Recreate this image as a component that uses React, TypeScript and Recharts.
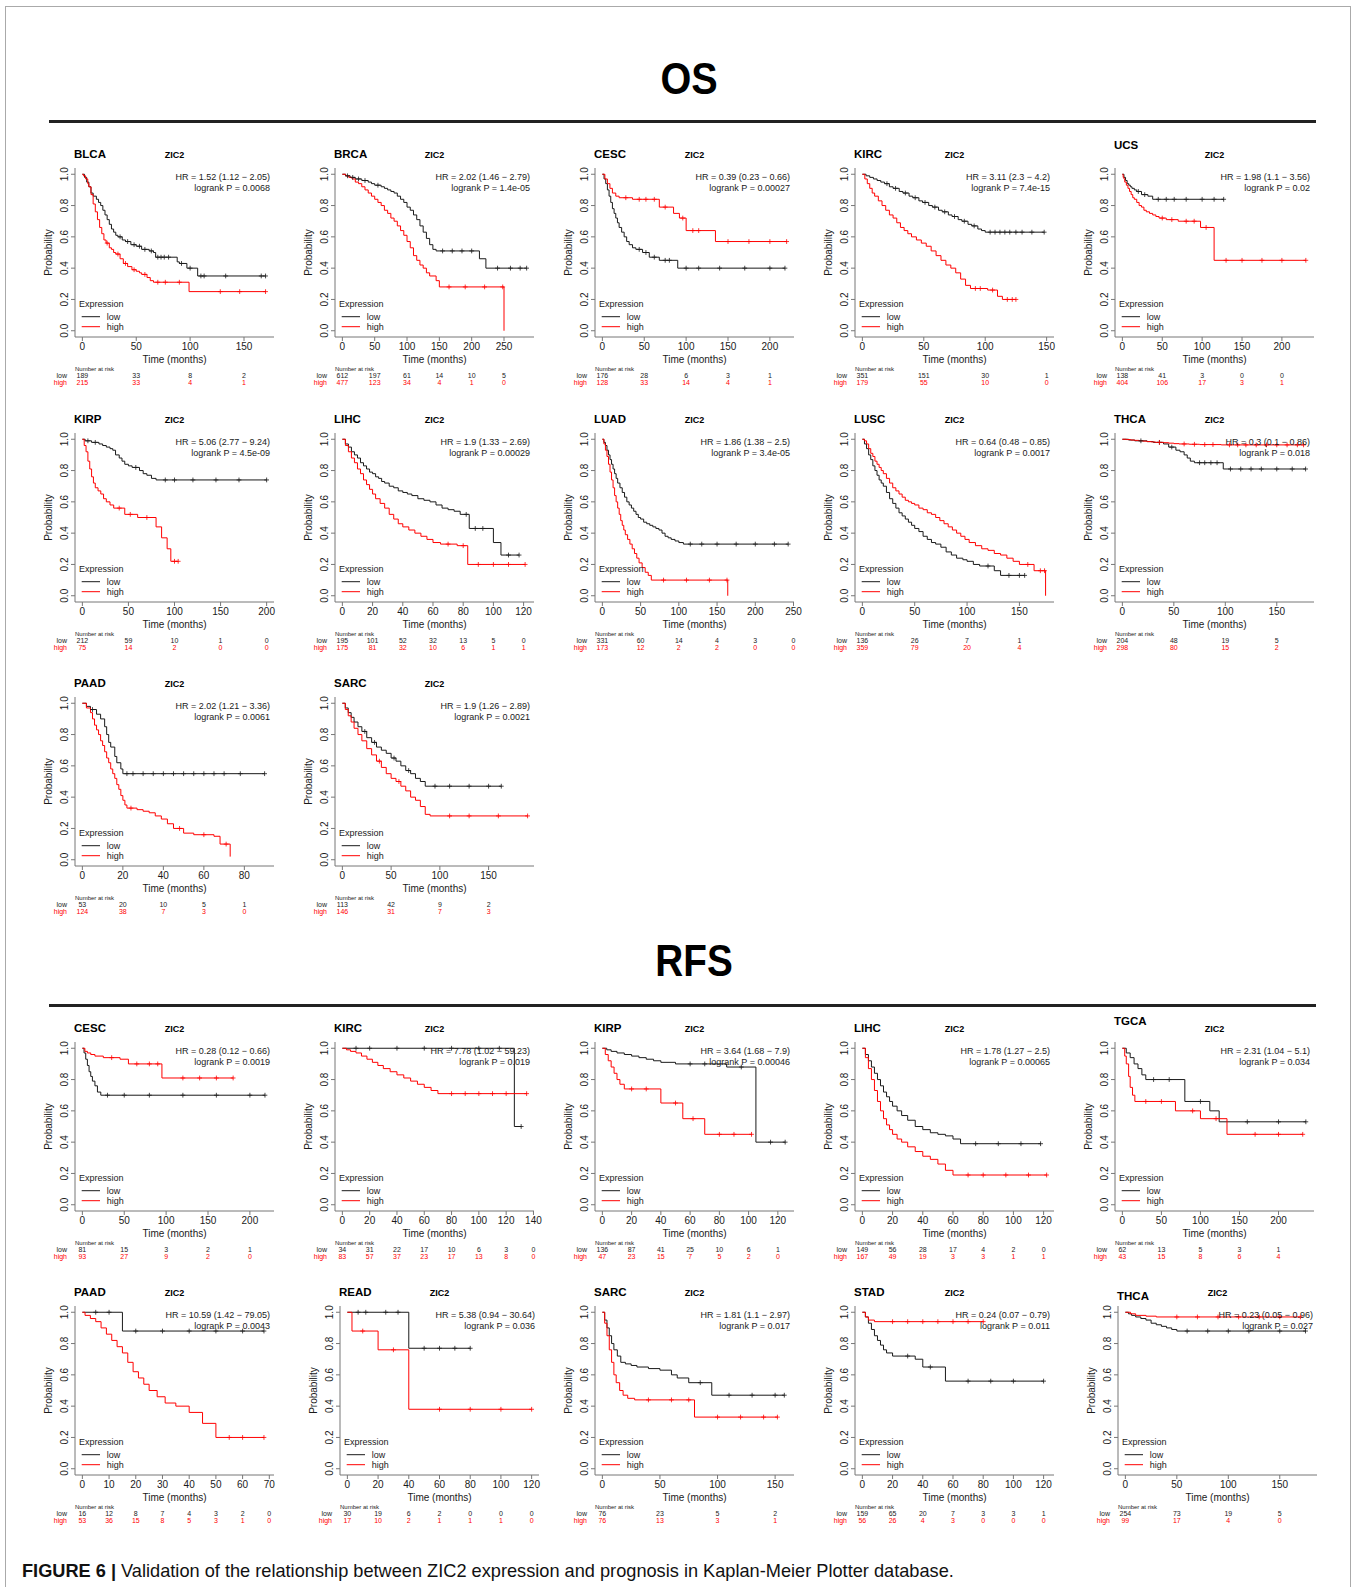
import React from 'react';
import { LineChart, Line, XAxis, YAxis } from 'recharts';

type Pt = [number, number];

// curves: [months, survival]; a point that repeats the previous survival is a censored case
const osBlcaLow: Pt[] = [[0,1],[2,0.98],[4,0.95],[6,0.92],[8,0.88],[10,0.86],[13,0.84],[15,0.82],[17,0.8],[19,0.77],[21,0.74],[23,0.71],[25,0.68],[27,0.65],[29,0.63],[31,0.61],[33,0.6],[35,0.6],[37,0.58],[40,0.57],[42,0.57],[45,0.55],[48,0.55],[50,0.54],[53,0.54],[55,0.52],[58,0.52],[62,0.51],[64,0.51],[66,0.5],[68,0.47],[70,0.47],[73,0.47],[76,0.47],[80,0.47],[88,0.44],[90,0.43],[92,0.43],[97,0.4],[100,0.4],[107,0.35],[110,0.35],[113,0.35],[133,0.35],[166,0.35],[170,0.35]];
const osBlcaHigh: Pt[] = [[0,1],[1,0.99],[3,0.97],[5,0.94],[6,0.92],[8,0.87],[10,0.81],[12,0.76],[14,0.71],[16,0.66],[18,0.62],[20,0.58],[22,0.56],[23,0.56],[25,0.53],[27,0.52],[29,0.5],[31,0.49],[33,0.49],[35,0.46],[38,0.43],[40,0.43],[42,0.41],[46,0.39],[48,0.39],[50,0.38],[53,0.37],[55,0.36],[58,0.36],[60,0.34],[63,0.32],[66,0.31],[70,0.31],[77,0.31],[90,0.31],[99,0.25],[128,0.25],[146,0.25],[170,0.25]];
const osBrcaLow: Pt[] = [[0,1],[5,0.99],[8,0.99],[12,0.98],[16,0.98],[20,0.97],[25,0.97],[30,0.96],[35,0.96],[40,0.95],[45,0.94],[50,0.93],[55,0.93],[60,0.92],[65,0.91],[70,0.9],[75,0.89],[80,0.88],[85,0.86],[90,0.84],[95,0.82],[100,0.79],[105,0.77],[110,0.74],[115,0.71],[120,0.67],[125,0.63],[130,0.59],[135,0.55],[140,0.52],[145,0.51],[155,0.51],[170,0.51],[185,0.51],[200,0.51],[212,0.46],[222,0.4],[240,0.4],[260,0.4],[275,0.4],[285,0.4]];
const osBrcaHigh: Pt[] = [[0,1],[5,0.99],[10,0.98],[15,0.97],[20,0.95],[25,0.94],[30,0.92],[35,0.9],[40,0.88],[45,0.86],[50,0.84],[55,0.82],[60,0.8],[65,0.77],[70,0.75],[75,0.72],[80,0.7],[85,0.67],[90,0.64],[95,0.61],[100,0.57],[105,0.53],[110,0.48],[115,0.45],[120,0.42],[125,0.4],[130,0.37],[135,0.35],[145,0.32],[150,0.28],[165,0.28],[190,0.28],[220,0.28],[248,0.28],[250,0]];
const osCescLow: Pt[] = [[0,1],[2,0.97],[4,0.94],[6,0.9],[8,0.86],[10,0.82],[12,0.78],[14,0.75],[16,0.72],[18,0.69],[20,0.66],[23,0.63],[26,0.6],[29,0.57],[32,0.55],[36,0.53],[40,0.52],[44,0.52],[48,0.5],[52,0.5],[56,0.47],[62,0.47],[68,0.45],[75,0.45],[80,0.45],[90,0.4],[100,0.4],[115,0.4],[140,0.4],[170,0.4],[200,0.4],[218,0.4]];
const osCescHigh: Pt[] = [[0,1],[3,0.97],[6,0.94],[9,0.91],[12,0.88],[16,0.86],[20,0.85],[28,0.85],[36,0.84],[44,0.84],[52,0.84],[62,0.84],[68,0.79],[75,0.79],[85,0.75],[92,0.72],[96,0.72],[100,0.64],[108,0.64],[115,0.64],[135,0.57],[150,0.57],[175,0.57],[200,0.57],[220,0.57]];
const osKircLow: Pt[] = [[0,1],[3,0.99],[6,0.98],[9,0.97],[12,0.96],[15,0.95],[18,0.94],[20,0.94],[22,0.92],[25,0.91],[27,0.91],[30,0.89],[33,0.88],[35,0.88],[38,0.86],[41,0.85],[43,0.85],[46,0.83],[49,0.82],[51,0.82],[54,0.8],[57,0.79],[59,0.79],[62,0.77],[65,0.76],[67,0.76],[70,0.74],[73,0.73],[75,0.73],[78,0.71],[81,0.7],[83,0.7],[86,0.68],[89,0.67],[91,0.67],[94,0.65],[97,0.64],[100,0.63],[104,0.63],[108,0.63],[112,0.63],[116,0.63],[120,0.63],[125,0.63],[130,0.63],[138,0.63],[148,0.63]];
const osKircHigh: Pt[] = [[0,1],[2,0.97],[4,0.94],[6,0.91],[8,0.88],[10,0.86],[13,0.83],[16,0.8],[19,0.77],[22,0.74],[25,0.72],[28,0.69],[31,0.66],[34,0.64],[37,0.62],[40,0.6],[44,0.58],[48,0.56],[52,0.54],[56,0.51],[60,0.48],[64,0.45],[68,0.42],[72,0.4],[76,0.37],[80,0.33],[84,0.29],[88,0.27],[92,0.27],[96,0.27],[102,0.26],[106,0.26],[110,0.22],[114,0.2],[118,0.2],[122,0.2],[125,0.2]];
const osUcsLow: Pt[] = [[0,1],[2,0.98],[4,0.96],[6,0.94],[8,0.93],[10,0.92],[12,0.91],[15,0.9],[18,0.89],[20,0.89],[24,0.87],[28,0.87],[32,0.86],[38,0.84],[45,0.84],[55,0.84],[65,0.84],[80,0.84],[100,0.84],[115,0.84],[127,0.84]];
const osUcsHigh: Pt[] = [[0,1],[1,0.98],[2,0.97],[3,0.95],[5,0.93],[7,0.91],[9,0.89],[11,0.87],[13,0.85],[15,0.84],[18,0.82],[21,0.8],[24,0.79],[27,0.77],[30,0.76],[34,0.75],[38,0.74],[42,0.73],[46,0.72],[50,0.72],[55,0.71],[62,0.71],[70,0.7],[80,0.7],[90,0.7],[98,0.66],[105,0.66],[115,0.45],[130,0.45],[150,0.45],[175,0.45],[200,0.45],[230,0.45]];
const osKirpLow: Pt[] = [[0,1],[3,0.99],[6,0.99],[10,0.98],[14,0.98],[18,0.97],[22,0.96],[26,0.95],[30,0.94],[33,0.93],[36,0.9],[40,0.88],[43,0.86],[46,0.84],[50,0.83],[54,0.82],[58,0.82],[62,0.8],[66,0.78],[70,0.77],[75,0.75],[80,0.74],[90,0.74],[100,0.74],[120,0.74],[145,0.74],[170,0.74],[200,0.74]];
const osKirpHigh: Pt[] = [[0,1],[2,0.96],[4,0.92],[6,0.86],[8,0.81],[10,0.76],[12,0.72],[14,0.69],[17,0.67],[20,0.65],[23,0.62],[26,0.6],[30,0.58],[34,0.56],[40,0.56],[46,0.52],[52,0.52],[60,0.5],[70,0.5],[80,0.44],[86,0.37],[92,0.3],[96,0.22],[100,0.22],[104,0.22]];
const osLihcLow: Pt[] = [[0,1],[2,0.97],[4,0.95],[6,0.92],[8,0.9],[10,0.88],[12,0.85],[14,0.83],[16,0.81],[18,0.79],[20,0.78],[22,0.76],[24,0.75],[26,0.73],[28,0.72],[31,0.7],[34,0.69],[37,0.67],[40,0.66],[43,0.65],[46,0.64],[50,0.62],[54,0.61],[58,0.6],[62,0.58],[66,0.56],[70,0.55],[74,0.54],[78,0.52],[82,0.52],[84,0.43],[88,0.43],[93,0.43],[100,0.34],[105,0.26],[110,0.26],[117,0.26]];
const osLihcHigh: Pt[] = [[0,1],[2,0.96],[4,0.92],[6,0.88],[8,0.85],[10,0.81],[12,0.78],[14,0.74],[16,0.71],[18,0.68],[20,0.65],[22,0.62],[25,0.59],[28,0.56],[31,0.52],[34,0.49],[37,0.46],[40,0.44],[44,0.42],[48,0.4],[52,0.38],[56,0.36],[60,0.34],[65,0.33],[70,0.33],[76,0.32],[80,0.32],[83,0.2],[90,0.2],[100,0.2],[110,0.2],[121,0.2]];
const osLuadLow: Pt[] = [[0,1],[2,0.98],[4,0.96],[6,0.93],[8,0.9],[10,0.87],[12,0.84],[14,0.81],[16,0.78],[18,0.75],[20,0.72],[23,0.69],[26,0.66],[29,0.63],[32,0.6],[35,0.58],[38,0.56],[41,0.54],[44,0.52],[47,0.5],[50,0.49],[54,0.47],[58,0.46],[62,0.45],[66,0.44],[70,0.43],[74,0.42],[78,0.4],[82,0.38],[86,0.37],[90,0.36],[95,0.35],[100,0.34],[106,0.33],[115,0.33],[130,0.33],[150,0.33],[175,0.33],[200,0.33],[225,0.33],[243,0.33]];
const osLuadHigh: Pt[] = [[0,1],[2,0.97],[4,0.93],[6,0.89],[8,0.84],[10,0.79],[12,0.74],[14,0.69],[16,0.64],[18,0.6],[20,0.56],[22,0.52],[24,0.48],[26,0.45],[28,0.42],[30,0.39],[33,0.36],[36,0.33],[39,0.3],[42,0.27],[45,0.24],[48,0.21],[52,0.18],[56,0.15],[60,0.13],[64,0.1],[80,0.1],[110,0.1],[140,0.1],[163,0.1],[164,0]];
const osLuscLow: Pt[] = [[0,1],[2,0.97],[4,0.94],[6,0.9],[8,0.87],[10,0.83],[12,0.8],[14,0.77],[16,0.74],[18,0.72],[20,0.7],[23,0.66],[26,0.62],[29,0.59],[32,0.56],[35,0.53],[38,0.51],[41,0.49],[44,0.47],[47,0.45],[50,0.43],[54,0.41],[58,0.38],[62,0.36],[66,0.34],[70,0.33],[75,0.31],[80,0.28],[85,0.26],[90,0.24],[96,0.23],[100,0.22],[106,0.2],[112,0.19],[120,0.19],[126,0.16],[132,0.13],[140,0.13],[150,0.13],[155,0.13]];
const osLuscHigh: Pt[] = [[0,1],[2,0.99],[4,0.97],[6,0.94],[8,0.91],[10,0.89],[12,0.86],[14,0.84],[16,0.82],[18,0.8],[20,0.78],[23,0.75],[26,0.72],[29,0.69],[32,0.67],[35,0.65],[38,0.63],[41,0.61],[44,0.6],[47,0.59],[50,0.58],[54,0.56],[58,0.55],[62,0.53],[66,0.52],[70,0.5],[74,0.48],[78,0.46],[82,0.44],[86,0.42],[90,0.4],[94,0.38],[98,0.36],[102,0.34],[108,0.32],[114,0.3],[120,0.29],[126,0.27],[132,0.26],[138,0.24],[144,0.22],[150,0.2],[158,0.2],[164,0.16],[170,0.16],[174,0.16],[175,0]];
const osThcaLow: Pt[] = [[0,1],[6,0.995],[12,0.99],[18,0.99],[24,0.985],[30,0.98],[36,0.98],[40,0.97],[45,0.95],[48,0.95],[52,0.93],[56,0.92],[60,0.9],[63,0.88],[66,0.86],[70,0.85],[75,0.85],[80,0.85],[86,0.85],[92,0.85],[98,0.81],[105,0.81],[115,0.81],[125,0.81],[135,0.81],[150,0.81],[165,0.81],[178,0.81]];
const osThcaHigh: Pt[] = [[0,1],[4,0.998],[8,0.995],[12,0.993],[16,0.99],[20,0.988],[24,0.985],[28,0.983],[32,0.98],[36,0.98],[40,0.978],[45,0.975],[50,0.972],[55,0.97],[60,0.97],[65,0.968],[70,0.968],[75,0.966],[80,0.966],[88,0.966],[96,0.964],[104,0.964],[112,0.964],[120,0.964],[130,0.964],[140,0.964],[150,0.964],[160,0.964],[170,0.964],[176,0.964]];
const osPaadLow: Pt[] = [[0,1],[2,0.98],[4,0.96],[5,0.96],[7,0.93],[9,0.9],[11,0.85],[12,0.8],[13,0.75],[14,0.72],[16,0.66],[17,0.62],[19,0.58],[20,0.55],[22,0.55],[25,0.55],[30,0.55],[35,0.55],[40,0.55],[45,0.55],[50,0.55],[55,0.55],[60,0.55],[65,0.55],[70,0.55],[78,0.55],[90,0.55]];
const osPaadHigh: Pt[] = [[0,1],[2,0.97],[4,0.94],[5,0.9],[6,0.86],[7,0.83],[8,0.8],[9,0.76],[10,0.73],[11,0.69],[12,0.65],[13,0.62],[14,0.58],[15,0.55],[16,0.52],[17,0.48],[18,0.45],[19,0.41],[20,0.38],[21,0.35],[22,0.33],[24,0.33],[27,0.32],[30,0.31],[33,0.3],[36,0.28],[39,0.26],[42,0.23],[45,0.2],[48,0.2],[50,0.17],[55,0.16],[60,0.16],[65,0.15],[68,0.1],[71,0.1],[73,0.02]];
const osSarcLow: Pt[] = [[0,1],[3,0.97],[6,0.94],[9,0.91],[12,0.88],[16,0.85],[20,0.82],[23,0.82],[25,0.78],[30,0.75],[33,0.75],[35,0.72],[40,0.7],[45,0.68],[50,0.65],[53,0.65],[55,0.63],[60,0.6],[65,0.57],[68,0.57],[70,0.55],[75,0.52],[80,0.5],[85,0.47],[95,0.47],[110,0.47],[130,0.47],[150,0.47],[163,0.47]];
const osSarcHigh: Pt[] = [[0,1],[3,0.96],[6,0.92],[9,0.88],[12,0.84],[16,0.8],[20,0.76],[25,0.71],[30,0.67],[35,0.63],[38,0.63],[40,0.59],[45,0.55],[50,0.52],[55,0.5],[58,0.5],[60,0.47],[65,0.44],[70,0.4],[75,0.38],[80,0.34],[85,0.29],[90,0.28],[110,0.28],[130,0.28],[160,0.28],[190,0.28]];

const rfsCescLow: Pt[] = [[0,1],[2,0.97],[4,0.93],[6,0.89],[8,0.85],[10,0.82],[12,0.79],[15,0.76],[18,0.72],[22,0.7],[30,0.7],[50,0.7],[80,0.7],[120,0.7],[160,0.7],[200,0.7],[218,0.7]];
const rfsCescHigh: Pt[] = [[0,1],[3,0.98],[6,0.97],[10,0.96],[15,0.95],[25,0.94],[35,0.94],[45,0.93],[55,0.9],[65,0.9],[80,0.9],[90,0.9],[95,0.81],[120,0.81],[140,0.81],[160,0.81],[180,0.81]];
const rfsKircLow: Pt[] = [[0,1],[10,1],[20,1],[40,1],[60,1],[80,1],[100,1],[115,1],[126,0.5],[131,0.5]];
const rfsKircHigh: Pt[] = [[0,1],[3,0.99],[6,0.98],[10,0.97],[14,0.95],[18,0.93],[22,0.91],[26,0.89],[30,0.87],[35,0.85],[40,0.83],[45,0.81],[50,0.79],[55,0.77],[60,0.75],[65,0.73],[70,0.71],[80,0.71],[90,0.71],[100,0.71],[110,0.71],[120,0.71],[135,0.71]];
const rfsKirpLow: Pt[] = [[0,1],[3,0.99],[6,0.98],[10,0.97],[15,0.96],[20,0.95],[25,0.94],[30,0.93],[35,0.92],[40,0.91],[50,0.9],[60,0.9],[70,0.9],[85,0.88],[95,0.88],[105,0.4],[115,0.4],[125,0.4]];
const rfsKirpHigh: Pt[] = [[0,1],[2,0.96],[4,0.92],[6,0.88],[8,0.84],[10,0.8],[12,0.77],[15,0.74],[20,0.74],[30,0.74],[40,0.65],[50,0.65],[55,0.55],[62,0.55],[70,0.45],[80,0.45],[90,0.45],[102,0.45]];
const rfsLihcLow: Pt[] = [[0,1],[2,0.96],[4,0.92],[6,0.88],[8,0.84],[10,0.8],[12,0.76],[14,0.72],[16,0.69],[18,0.66],[20,0.63],[23,0.6],[26,0.57],[30,0.54],[35,0.5],[40,0.48],[45,0.46],[50,0.45],[55,0.44],[60,0.42],[65,0.39],[75,0.39],[90,0.39],[105,0.39],[118,0.39]];
const rfsLihcHigh: Pt[] = [[0,1],[2,0.94],[4,0.87],[6,0.8],[8,0.73],[10,0.66],[12,0.6],[14,0.55],[16,0.51],[18,0.48],[20,0.45],[23,0.42],[26,0.4],[30,0.37],[35,0.34],[40,0.31],[45,0.29],[50,0.26],[55,0.22],[60,0.19],[70,0.19],[80,0.19],[95,0.19],[110,0.19],[122,0.19]];
const rfsTgcaLow: Pt[] = [[0,1],[5,0.97],[10,0.94],[15,0.9],[20,0.87],[25,0.83],[30,0.8],[40,0.8],[60,0.8],[80,0.66],[100,0.66],[112,0.6],[124,0.53],[160,0.53],[200,0.53],[235,0.53]];
const rfsTgcaHigh: Pt[] = [[0,1],[3,0.95],[5,0.9],[8,0.82],[10,0.75],[13,0.7],[16,0.66],[30,0.66],[50,0.66],[68,0.6],[90,0.6],[100,0.55],[120,0.55],[134,0.45],[170,0.45],[200,0.45],[231,0.45]];
const rfsPaadLow: Pt[] = [[0,1],[5,1],[10,1],[15,0.88],[20,0.88],[30,0.88],[40,0.88],[50,0.88],[60,0.88],[68,0.88]];
const rfsPaadHigh: Pt[] = [[0,1],[1,0.98],[3,0.96],[5,0.94],[7,0.9],[9,0.86],[11,0.82],[13,0.78],[15,0.74],[17,0.68],[19,0.62],[21,0.58],[23,0.54],[25,0.5],[28,0.46],[31,0.42],[35,0.4],[40,0.36],[45,0.29],[50,0.2],[55,0.2],[60,0.2],[68,0.2]];
const rfsReadLow: Pt[] = [[0,1],[7,1],[12,1],[25,1],[33,1],[40,0.77],[50,0.77],[60,0.77],[70,0.77],[80,0.77]];
const rfsReadHigh: Pt[] = [[0,1],[3,0.88],[10,0.88],[20,0.76],[30,0.76],[40,0.38],[60,0.38],[80,0.38],[100,0.38],[120,0.38]];
const rfsSarcLow: Pt[] = [[0,1],[2,0.95],[4,0.9],[6,0.85],[8,0.8],[10,0.76],[13,0.72],[16,0.68],[20,0.67],[25,0.66],[30,0.65],[40,0.64],[50,0.63],[60,0.6],[65,0.58],[75,0.55],[85,0.55],[95,0.47],[110,0.47],[130,0.47],[150,0.47],[158,0.47]];
const rfsSarcHigh: Pt[] = [[0,1],[2,0.93],[4,0.85],[6,0.76],[8,0.68],[10,0.6],[12,0.55],[15,0.5],[18,0.47],[22,0.45],[28,0.44],[40,0.44],[60,0.44],[75,0.44],[80,0.33],[100,0.33],[120,0.33],[140,0.33],[152,0.33]];
const rfsStadLow: Pt[] = [[0,1],[2,0.97],[4,0.93],[6,0.89],[8,0.85],[10,0.82],[12,0.79],[14,0.76],[16,0.74],[20,0.72],[30,0.72],[35,0.7],[40,0.65],[45,0.65],[55,0.56],[70,0.56],[85,0.56],[100,0.56],[120,0.56]];
const rfsStadHigh: Pt[] = [[0,1],[2,0.97],[4,0.95],[8,0.94],[20,0.94],[30,0.94],[40,0.94],[50,0.94],[60,0.94],[70,0.94],[80,0.94]];
const rfsThcaLow: Pt[] = [[0,1],[3,0.99],[6,0.98],[10,0.97],[15,0.96],[20,0.95],[25,0.93],[30,0.92],[35,0.91],[40,0.9],[45,0.89],[50,0.88],[60,0.88],[80,0.88],[100,0.88],[120,0.88],[150,0.88],[175,0.88]];
const rfsThcaHigh: Pt[] = [[0,1],[5,0.99],[10,0.98],[20,0.975],[30,0.97],[50,0.97],[70,0.97],[90,0.97],[110,0.97],[130,0.97],[150,0.97],[170,0.97]];

// x tick sets
const t150 = [0, 50, 100, 150];
const t200 = [0, 50, 100, 150, 200];
const t250 = [0, 50, 100, 150, 200, 250];
const t120 = [0, 20, 40, 60, 80, 100, 120];
const t140 = [0, 20, 40, 60, 80, 100, 120, 140];
const t80 = [0, 20, 40, 60, 80];
const t70 = [0, 10, 20, 30, 40, 50, 60, 70];
const yTicks = [0, 0.2, 0.4, 0.6, 0.8, 1];

// number at risk
const osBlcaRiskLow = [189, 33, 8, 2];
const osBlcaRiskHigh = [215, 33, 4, 1];
const osBrcaRiskLow = [612, 197, 61, 14, 10, 5];
const osBrcaRiskHigh = [477, 123, 34, 4, 1, 0];
const osCescRiskLow = [176, 28, 6, 3, 1];
const osCescRiskHigh = [128, 33, 14, 4, 1];
const osKircRiskLow = [351, 151, 30, 1];
const osKircRiskHigh = [179, 55, 10, 0];
const osUcsRiskLow = [138, 41, 3, 0, 0];
const osUcsRiskHigh = [404, 106, 17, 3, 1];
const osKirpRiskLow = [212, 59, 10, 1, 0];
const osKirpRiskHigh = [75, 14, 2, 0, 0];
const osLihcRiskLow = [195, 101, 52, 32, 13, 5, 0];
const osLihcRiskHigh = [175, 81, 32, 10, 6, 1, 1];
const osLuadRiskLow = [331, 60, 14, 4, 3, 0];
const osLuadRiskHigh = [173, 12, 2, 2, 0, 0];
const osLuscRiskLow = [136, 26, 7, 1];
const osLuscRiskHigh = [359, 79, 20, 4];
const osThcaRiskLow = [204, 48, 19, 5];
const osThcaRiskHigh = [298, 80, 15, 2];
const osPaadRiskLow = [53, 20, 10, 5, 1];
const osPaadRiskHigh = [124, 38, 7, 3, 0];
const osSarcRiskLow = [113, 42, 9, 2];
const osSarcRiskHigh = [146, 31, 7, 3];
const rfsCescRiskLow = [81, 15, 3, 2, 1];
const rfsCescRiskHigh = [93, 27, 9, 2, 0];
const rfsKircRiskLow = [34, 31, 22, 17, 10, 6, 3, 0];
const rfsKircRiskHigh = [83, 57, 37, 23, 17, 13, 8, 0];
const rfsKirpRiskLow = [136, 87, 41, 25, 10, 6, 1];
const rfsKirpRiskHigh = [47, 23, 15, 7, 5, 2, 0];
const rfsLihcRiskLow = [149, 56, 28, 17, 4, 2, 0];
const rfsLihcRiskHigh = [167, 49, 19, 3, 3, 1, 1];
const rfsTgcaRiskLow = [62, 13, 5, 3, 1];
const rfsTgcaRiskHigh = [43, 15, 8, 6, 4];
const rfsPaadRiskLow = [16, 12, 8, 7, 4, 3, 2, 0];
const rfsPaadRiskHigh = [53, 36, 15, 8, 5, 3, 1, 0];
const rfsReadRiskLow = [30, 19, 6, 2, 0, 0, 0];
const rfsReadRiskHigh = [17, 10, 2, 1, 1, 1, 0];
const rfsSarcRiskLow = [76, 23, 5, 2];
const rfsSarcRiskHigh = [76, 13, 3, 1];
const rfsStadRiskLow = [159, 65, 20, 7, 3, 3, 1];
const rfsStadRiskHigh = [56, 26, 4, 3, 0, 0, 0];
const rfsThcaRiskLow = [254, 73, 19, 5];
const rfsThcaRiskHigh = [99, 17, 4, 0];

type Panel = {
  name: string; hr: string; p: string; col: number; row: number; xmax: number; ticks: number[];
  low: Pt[]; high: Pt[]; riskLow: number[]; riskHigh: number[]; titleDy?: number; dx?: number;
};

const panels: Panel[] = [
  { name: 'BLCA', hr: 'HR = 1.52 (1.12 − 2.05)', p: 'logrank P = 0.0068', col: 0, row: 0, xmax: 171, ticks: t150, low: osBlcaLow, high: osBlcaHigh, riskLow: osBlcaRiskLow, riskHigh: osBlcaRiskHigh },
  { name: 'BRCA', hr: 'HR = 2.02 (1.46 − 2.79)', p: 'logrank P = 1.4e-05', col: 1, row: 0, xmax: 285, ticks: t250, low: osBrcaLow, high: osBrcaHigh, riskLow: osBrcaRiskLow, riskHigh: osBrcaRiskHigh },
  { name: 'CESC', hr: 'HR = 0.39 (0.23 − 0.66)', p: 'logrank P = 0.00027', col: 2, row: 0, xmax: 220, ticks: t200, low: osCescLow, high: osCescHigh, riskLow: osCescRiskLow, riskHigh: osCescRiskHigh },
  { name: 'KIRC', hr: 'HR = 3.11 (2.3 − 4.2)', p: 'logrank P = 7.4e-15', col: 3, row: 0, xmax: 150, ticks: t150, low: osKircLow, high: osKircHigh, riskLow: osKircRiskLow, riskHigh: osKircRiskHigh },
  { name: 'UCS', hr: 'HR = 1.98 (1.1 − 3.56)', p: 'logrank P = 0.02', col: 4, row: 0, xmax: 231, ticks: t200, low: osUcsLow, high: osUcsHigh, riskLow: osUcsRiskLow, riskHigh: osUcsRiskHigh, titleDy: -9 },
  { name: 'KIRP', hr: 'HR = 5.06 (2.77 − 9.24)', p: 'logrank P = 4.5e-09', col: 0, row: 1, xmax: 200, ticks: t200, low: osKirpLow, high: osKirpHigh, riskLow: osKirpRiskLow, riskHigh: osKirpRiskHigh },
  { name: 'LIHC', hr: 'HR = 1.9 (1.33 − 2.69)', p: 'logrank P = 0.00029', col: 1, row: 1, xmax: 122, ticks: t120, low: osLihcLow, high: osLihcHigh, riskLow: osLihcRiskLow, riskHigh: osLihcRiskHigh },
  { name: 'LUAD', hr: 'HR = 1.86 (1.38 − 2.5)', p: 'logrank P = 3.4e-05', col: 2, row: 1, xmax: 241, ticks: t250, low: osLuadLow, high: osLuadHigh, riskLow: osLuadRiskLow, riskHigh: osLuadRiskHigh },
  { name: 'LUSC', hr: 'HR = 0.64 (0.48 − 0.85)', p: 'logrank P = 0.0017', col: 3, row: 1, xmax: 176, ticks: t150, low: osLuscLow, high: osLuscHigh, riskLow: osLuscRiskLow, riskHigh: osLuscRiskHigh },
  { name: 'THCA', hr: 'HR = 0.3 (0.1 − 0.86)', p: 'logrank P = 0.018', col: 4, row: 1, xmax: 179, ticks: t150, low: osThcaLow, high: osThcaHigh, riskLow: osThcaRiskLow, riskHigh: osThcaRiskHigh },
  { name: 'PAAD', hr: 'HR = 2.02 (1.21 − 3.36)', p: 'logrank P = 0.0061', col: 0, row: 2, xmax: 91, ticks: t80, low: osPaadLow, high: osPaadHigh, riskLow: osPaadRiskLow, riskHigh: osPaadRiskHigh },
  { name: 'SARC', hr: 'HR = 1.9 (1.26 − 2.89)', p: 'logrank P = 0.0021', col: 1, row: 2, xmax: 189, ticks: t150, low: osSarcLow, high: osSarcHigh, riskLow: osSarcRiskLow, riskHigh: osSarcRiskHigh },
  { name: 'CESC', hr: 'HR = 0.28 (0.12 − 0.66)', p: 'logrank P = 0.0019', col: 0, row: 3, xmax: 220, ticks: t200, low: rfsCescLow, high: rfsCescHigh, riskLow: rfsCescRiskLow, riskHigh: rfsCescRiskHigh },
  { name: 'KIRC', hr: 'HR = 7.78 (1.02 − 59.23)', p: 'logrank P = 0.019', col: 1, row: 3, xmax: 135, ticks: t140, low: rfsKircLow, high: rfsKircHigh, riskLow: rfsKircRiskLow, riskHigh: rfsKircRiskHigh },
  { name: 'KIRP', hr: 'HR = 3.64 (1.68 − 7.9)', p: 'logrank P = 0.00046', col: 2, row: 3, xmax: 126, ticks: t120, low: rfsKirpLow, high: rfsKirpHigh, riskLow: rfsKirpRiskLow, riskHigh: rfsKirpRiskHigh },
  { name: 'LIHC', hr: 'HR = 1.78 (1.27 − 2.5)', p: 'logrank P = 0.00065', col: 3, row: 3, xmax: 122, ticks: t120, low: rfsLihcLow, high: rfsLihcHigh, riskLow: rfsLihcRiskLow, riskHigh: rfsLihcRiskHigh },
  { name: 'TGCA', hr: 'HR = 2.31 (1.04 − 5.1)', p: 'logrank P = 0.034', col: 4, row: 3, xmax: 236, ticks: t200, low: rfsTgcaLow, high: rfsTgcaHigh, riskLow: rfsTgcaRiskLow, riskHigh: rfsTgcaRiskHigh, titleDy: -7 },
  { name: 'PAAD', hr: 'HR = 10.59 (1.42 − 79.05)', p: 'logrank P = 0.0043', col: 0, row: 4, xmax: 69, ticks: t70, low: rfsPaadLow, high: rfsPaadHigh, riskLow: rfsPaadRiskLow, riskHigh: rfsPaadRiskHigh },
  { name: 'READ', hr: 'HR = 5.38 (0.94 − 30.64)', p: 'logrank P = 0.036', col: 1, row: 4, xmax: 120, ticks: t120, low: rfsReadLow, high: rfsReadHigh, riskLow: rfsReadRiskLow, riskHigh: rfsReadRiskHigh, dx: 5 },
  { name: 'SARC', hr: 'HR = 1.81 (1.1 − 2.97)', p: 'logrank P = 0.017', col: 2, row: 4, xmax: 160, ticks: t150, low: rfsSarcLow, high: rfsSarcHigh, riskLow: rfsSarcRiskLow, riskHigh: rfsSarcRiskHigh },
  { name: 'STAD', hr: 'HR = 0.24 (0.07 − 0.79)', p: 'logrank P = 0.011', col: 3, row: 4, xmax: 122, ticks: t120, low: rfsStadLow, high: rfsStadHigh, riskLow: rfsStadRiskLow, riskHigh: rfsStadRiskHigh },
  { name: 'THCA', hr: 'HR = 0.23 (0.05 − 0.96)', p: 'logrank P = 0.027', col: 4, row: 4, xmax: 179, ticks: t150, low: rfsThcaLow, high: rfsThcaHigh, riskLow: rfsThcaRiskLow, riskHigh: rfsThcaRiskHigh, titleDy: 4, dx: 3 },
];

const ROW_TOP = [140, 405, 669, 1014, 1278];
const W = 260;
const H = 255;
const INK = '#1a1a1a';
const RED = '#ff0000';
const AXIS = '#777';
const FONT = '"Liberation Sans", Arial, Helvetica, sans-serif';

const toSeries = (pts: Pt[]) => pts.map(([t, s], i) => ({ t, s, c: i > 0 && s === pts[i - 1][1] }));

const censorDot = (color: string) => (props: any) => {
  const { cx, cy, payload, index } = props;
  if (!payload || !payload.c || cx == null || cy == null) return <g key={`n${index}`} />;
  return (
    <path key={`c${index}`} d={`M${cx - 2.4},${cy}h4.8M${cx},${cy - 2.4}v4.8`} stroke={color} strokeWidth={0.8} fill="none" />
  );
};

const xTick = (p: Panel) => (props: any) => {
  const { x, y, payload } = props;
  const i = p.ticks.indexOf(payload.value);
  return (
    <g>
      <text x={x} y={y + 6.5} textAnchor="middle" fontSize={10} fill={INK}>{payload.value}</text>
      <text x={x} y={y + 35} textAnchor="middle" fontSize={7} fill={INK}>{p.riskLow[i]}</text>
      <text x={x} y={y + 42} textAnchor="middle" fontSize={7} fill={RED}>{p.riskHigh[i]}</text>
    </g>
  );
};

const yTick = (props: any) => {
  const { x, y, payload } = props;
  return (
    <text transform={`translate(${x - 4.5},${y}) rotate(-90)`} textAnchor="middle" dominantBaseline="central" fontSize={10} fill={INK}>
      {Number(payload.value).toFixed(1)}
    </text>
  );
};

function KMPanel({ p }: { p: Panel }) {
  const left = 35 + p.col * 260 + (p.dx ?? 0);
  const top = ROW_TOP[p.row];
  const pad = p.xmax * 0.04;
  const xDomain: [number, number] = [-pad, p.xmax + pad];
  const yDomain: [number, number] = [-0.04, 1.04];
  return (
    <div style={{ position: 'absolute', left, top, width: W, height: H }}>
      <LineChart width={W} height={H} margin={{ top: 28, right: 21, bottom: 0, left: 0 }}>
        <XAxis xAxisId="b" type="number" dataKey="t" domain={xDomain} allowDataOverflow ticks={p.ticks} interval={0}
          height={58} tickSize={4} tickMargin={2} axisLine={{ stroke: AXIS }} tickLine={{ stroke: AXIS }} tick={xTick(p)} />
        <XAxis xAxisId="t" orientation="top" type="number" dataKey="t" domain={xDomain} allowDataOverflow height={0}
          tick={false} tickLine={false} axisLine={{ stroke: AXIS }} />
        <YAxis yAxisId="l" type="number" domain={yDomain} allowDataOverflow ticks={yTicks} interval={0} width={40}
          tickSize={4} tickMargin={2} axisLine={{ stroke: AXIS }} tickLine={{ stroke: AXIS }} tick={yTick} />
        <YAxis yAxisId="r" orientation="right" type="number" domain={yDomain} allowDataOverflow width={0}
          tick={false} tickLine={false} axisLine={{ stroke: AXIS }} />
        <Line xAxisId="b" yAxisId="l" data={toSeries(p.low)} dataKey="s" type="stepAfter" stroke={INK} strokeWidth={1}
          dot={censorDot(INK)} activeDot={false} isAnimationActive={false} />
        <Line xAxisId="b" yAxisId="l" data={toSeries(p.high)} dataKey="s" type="stepAfter" stroke={RED} strokeWidth={1}
          dot={censorDot(RED)} activeDot={false} isAnimationActive={false} />
      </LineChart>
      <svg width={W} height={H} style={{ position: 'absolute', left: 0, top: 0, pointerEvents: 'none', overflow: 'visible' }}>
        <text x={39} y={18.3 + (p.titleDy ?? 0)} fontSize={11.5} fontWeight="bold" fill="#000">{p.name}</text>
        <text x={139.5} y={18.3} fontSize={9} fontWeight="bold" textAnchor="middle" fill="#000">ZIC2</text>
        <text x={235} y={40} fontSize={9} textAnchor="end" fill={INK}>{p.hr}</text>
        <text x={235} y={51} fontSize={9} textAnchor="end" fill={INK}>{p.p}</text>
        <text transform="translate(13.3,112.5) rotate(-90)" fontSize={10} textAnchor="middle" dominantBaseline="central" fill={INK}>Probability</text>
        <text x={44} y={167} fontSize={9} fill={INK}>Expression</text>
        <line x1={46.7} x2={65} y1={176.7} y2={176.7} stroke={INK} strokeWidth={1} />
        <text x={71.7} y={180} fontSize={9} fill={INK}>low</text>
        <line x1={46.7} x2={65} y1={186.7} y2={186.7} stroke={RED} strokeWidth={1} />
        <text x={71.7} y={190} fontSize={9} fill={INK}>high</text>
        <text x={139.5} y={222.5} fontSize={10} textAnchor="middle" fill={INK}>Time (months)</text>
        <text x={40} y={231} fontSize={6} fill={INK}>Number at risk</text>
        <text x={32} y={238} fontSize={7} textAnchor="end" fill={INK}>low</text>
        <text x={32} y={245} fontSize={7} textAnchor="end" fill={RED}>high</text>
      </svg>
    </div>
  );
}

function Heading({ text, cx, cy, scale }: { text: string; cx: number; cy: number; scale: number }) {
  return (
    <div style={{ position: 'absolute', left: cx - 100, top: cy - 26, width: 200, height: 52, textAlign: 'center',
      fontSize: 44, fontWeight: 'bold', lineHeight: '52px', color: '#000', transform: `scaleX(${scale})` }}>
      {text}
    </div>
  );
}

export default function App() {
  return (
    <div style={{ position: 'absolute', left: 0, top: 0, width: 1356, height: 1587, overflow: 'hidden', background: '#fff', fontFamily: FONT }}>
      <div style={{ position: 'absolute', left: 5, top: 6, width: 1344, height: 1600, border: '1px solid #aaa' }} />
      <Heading text="OS" cx={689} cy={79} scale={0.9} />
      <div style={{ position: 'absolute', left: 49, top: 119.5, width: 1267, height: 3, background: '#222' }} />
      <Heading text="RFS" cx={694} cy={961} scale={0.88} />
      <div style={{ position: 'absolute', left: 49, top: 1003.5, width: 1267, height: 3, background: '#222' }} />
      {panels.map((p, i) => <KMPanel key={i} p={p} />)}
      <div style={{ position: 'absolute', left: 22, top: 1560, fontSize: 18.2, lineHeight: '22px', color: '#111', whiteSpace: 'nowrap' }}>
        <b>FIGURE 6 |</b> Validation of the relationship between ZIC2 expression and prognosis in Kaplan-Meier Plotter database.
      </div>
    </div>
  );
}
